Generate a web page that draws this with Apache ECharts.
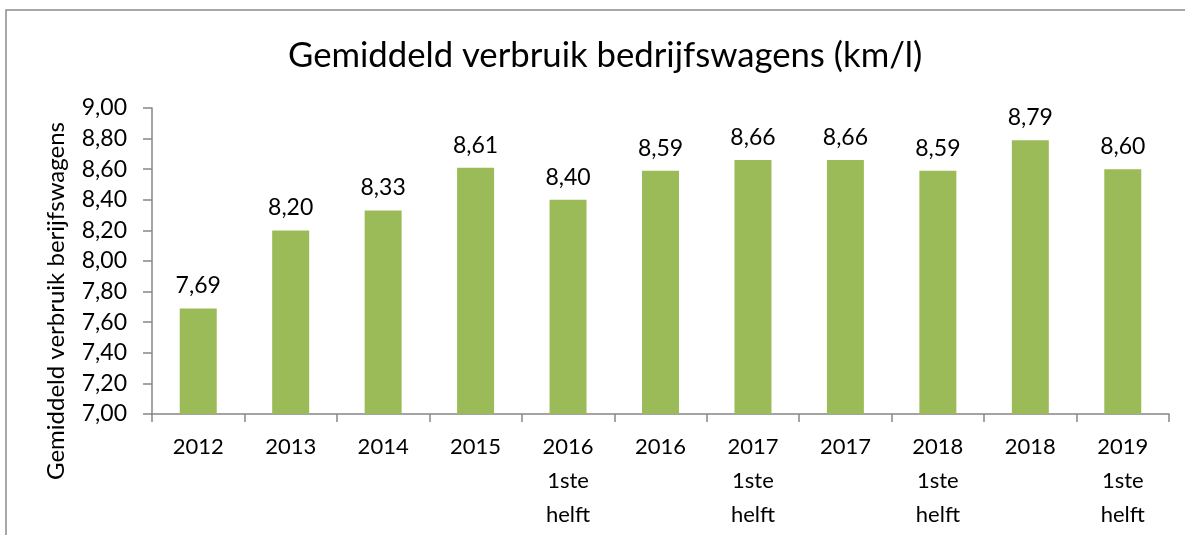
<!DOCTYPE html>
<html><head><meta charset="utf-8">
<script src="https://cdn.jsdelivr.net/npm/echarts@6/dist/echarts.min.js"></script>
<style>html,body{margin:0;padding:0;background:#fff}#c{width:1185px;height:535px}</style>
</head><body><div id="c"></div>
<script>
const categories = ["2012","2013","2014","2015","2016\n1ste\nhelft","2016","2017\n1ste\nhelft","2017","2018\n1ste\nhelft","2018","2019\n1ste\nhelft"];
const values = [7.69,8.20,8.33,8.61,8.40,8.59,8.66,8.66,8.59,8.79,8.60];
const titleText = "Gemiddeld verbruik bedrijfswagens (km/l)";
const yName = "Gemiddeld verbruik berijfswagens";
const fmt = v => v.toFixed(2).replace('.', ',');
const FONT = 'Lato';
const chart = echarts.init(document.getElementById('c'));
chart.setOption({
  animation:false,
  title:{text:titleText,left:283,top:33,textStyle:{fontFamily:FONT,fontSize:34.7,fontWeight:'normal',color:'#000'}},
  grid:{left:152,right:16,top:108,bottom:121},
  xAxis:{type:'category',data:categories,
    axisLine:{lineStyle:{color:'#868686',width:1.5}},
    axisTick:{show:true,length:8,lineStyle:{color:'#868686',width:1.5}},
    axisLabel:{fontFamily:FONT,fontSize:22,color:'#000',lineHeight:34,margin:16,interval:0}},
  yAxis:{type:'value',min:7,max:9,interval:0.2,
    splitLine:{show:false},
    axisLine:{show:true,lineStyle:{color:'#868686',width:1.5}},
    axisTick:{show:true,length:9,lineStyle:{color:'#868686',width:1.5}},
    axisLabel:{fontFamily:FONT,fontSize:23,color:'#000',margin:25,formatter:v=>fmt(v)}},
  graphic:[
    {type:'rect',shape:{x:6,y:10,width:1200,height:600},style:{fill:'none',stroke:'#8c8c8c',lineWidth:1.5},silent:true},
    {type:'text',x:56,y:301,rotation:Math.PI/2,style:{text:yName,fontFamily:FONT,fontSize:24,fill:'#000',align:'center',verticalAlign:'middle'}}
  ],
  series:[{type:'bar',data:values,barWidth:'40%',itemStyle:{color:'#9BBB59'},
    label:{show:true,position:'top',distance:11,fontFamily:FONT,fontSize:23,color:'#000',formatter:p=>fmt(p.value)}}]
});
</script></body></html>
